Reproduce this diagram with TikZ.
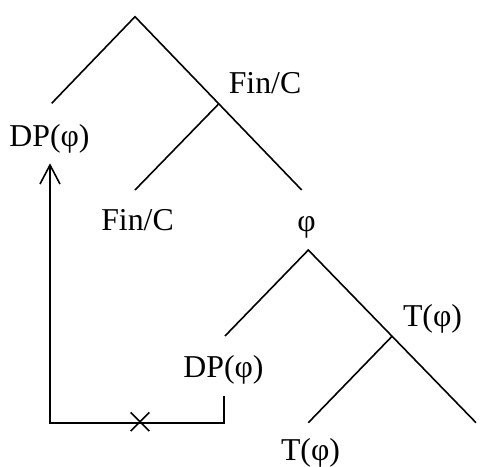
\documentclass[tikz,border=0pt]{standalone}
\usepackage{fontspec}
\setmainfont{Liberation Serif}
\usetikzlibrary{arrows.meta}
\begin{document}
\begin{tikzpicture}[x=1pt,y=-1pt,
  lbl/.style={inner sep=0pt,anchor=base,font=\fontsize{31.8}{38}\selectfont},
  br/.style={line width=1.6pt},
  mv/.style={line width=1.8pt}]
\useasboundingbox (0,0) rectangle (489,466);
% upper tree
\coordinate (r0) at (135,16.7);
\coordinate (r0l) at (51.7,103.3);
\coordinate (r0r) at (301.7,190);
\coordinate (b1) at (218.3,104.3);
\coordinate (b1l) at (135,190);
\draw[br] (r0l) -- (r0) -- (r0r);
\draw[br] (b1) -- (b1l);
\node[lbl] (fc1) at (265,93.3) {Fin/C};
\node[lbl] (dp1) at (49.5,146) {DP(φ)};
\node[lbl] (fc2) at (137.5,230.7) {Fin/C};
\node[lbl] (phi) at (306.5,231.7) {φ};
% lower tree
\coordinate (r1) at (308.3,250);
\coordinate (r1l) at (225,336);
\coordinate (r1r) at (476,422.7);
\coordinate (b2) at (392.3,336);
\coordinate (b2l) at (308.3,422.7);
\draw[br] (r1l) -- (r1) -- (r1r);
\draw[br] (b2) -- (b2l);
\node[lbl] (t1) at (432.5,326.7) {T(φ)};
\node[lbl] (dp2) at (223.5,377) {DP(φ)};
\node[lbl] (t2) at (310.5,460) {T(φ)};
% movement arrow
\coordinate (m0) at (223.7,396);
\coordinate (m1) at (223.7,422.7);
\coordinate (m2) at (50,422.7);
\coordinate (m3) at (50,163.3);
\draw[mv,-{Straight Barb[length=19pt,width=20pt,line width=1.6pt]}] (m0) -- (m1) -- (m2) -- (m3);
\coordinate (x) at (140,421.7);
\draw[br] ([shift={(-9.3,-9.3)}]x) -- ([shift={(9.3,9.3)}]x);
\draw[br] ([shift={(-9.3,9.3)}]x) -- ([shift={(9.3,-9.3)}]x);
\end{tikzpicture}
\end{document}
